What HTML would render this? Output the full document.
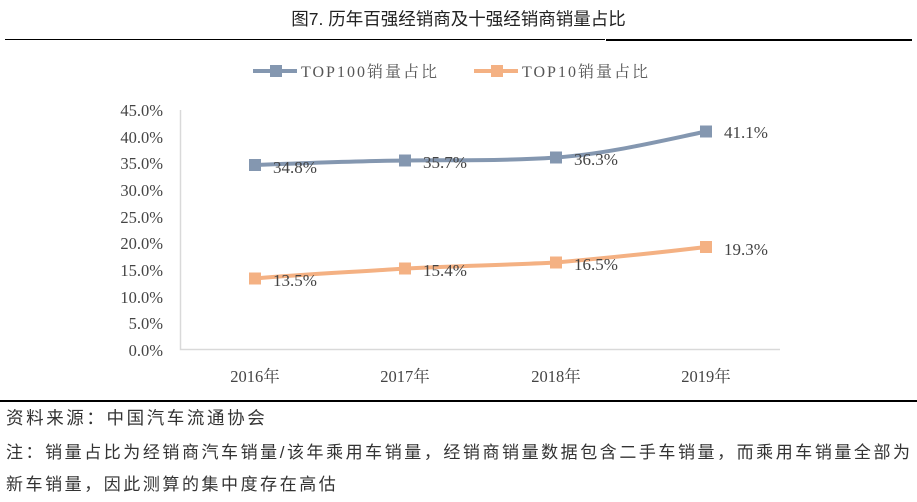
<!DOCTYPE html>
<html><head><meta charset="utf-8">
<style>
body{margin:0;width:917px;height:502px;background:#fff;overflow:hidden;position:relative;font-family:"Liberation Sans","Noto Sans CJK SC",sans-serif;}
.t{position:absolute;white-space:nowrap;}
</style></head><body>
<div class="t" style="left:0;width:917px;top:6px;text-align:center;font-size:17.5px;color:#222;">图7. 历年百强经销商及十强经销商销量占比</div>
<div style="position:absolute;left:5px;top:39px;width:600px;height:1px;background:#000"></div>
<div style="position:absolute;left:606px;top:39px;width:306px;height:2px;background:#000"></div>
<svg width="917" height="502" style="position:absolute;left:0;top:0" font-family="Liberation Serif, Noto Serif CJK SC, serif">
<g fill="#444" font-size="16.5" text-anchor="end">
<text x="163" y="116">45.0%</text><text x="163" y="143">40.0%</text><text x="163" y="169">35.0%</text><text x="163" y="196">30.0%</text><text x="163" y="223">25.0%</text><text x="163" y="249">20.0%</text><text x="163" y="276">15.0%</text><text x="163" y="303">10.0%</text><text x="163" y="329">5.0%</text><text x="163" y="356">0.0%</text>
</g>
<path d="M180.5 110V349.5H780" stroke="#d9d9d9" stroke-width="1.5" fill="none"/>
<g fill="#444" font-size="16.5" text-anchor="middle">
<text x="255" y="382">2016年</text><text x="405" y="382">2017年</text><text x="556" y="382">2018年</text><text x="706" y="382">2019年</text>
</g>
<path d="M255 165 C305 163,355 161,405 160.5 C455 160,505 161,556 157.5 C606 154,656 142,706 131.5" stroke="#8497b0" stroke-width="4" fill="none"/>
<path d="M255 278.5 C305 274,355 272,405 268.5 C455 266,505 265,556 262.5 C606 258,656 253,706 247" stroke="#f4b183" stroke-width="4" fill="none"/>
<g fill="#8497b0"><rect x="249" y="159" width="12" height="12"/><rect x="399" y="154.5" width="12" height="12"/><rect x="550" y="151.5" width="12" height="12"/><rect x="700" y="125.5" width="12" height="12"/></g>
<g fill="#f4b183"><rect x="249" y="272.5" width="12" height="12"/><rect x="399" y="262.5" width="12" height="12"/><rect x="550" y="256.5" width="12" height="12"/><rect x="700" y="241" width="12" height="12"/></g>
<g fill="#444" font-size="17">
<text x="273" y="173">34.8%</text><text x="423" y="168">35.7%</text><text x="574" y="165">36.3%</text><text x="724" y="138">41.1%</text>
<text x="273" y="286">13.5%</text><text x="423" y="276">15.4%</text><text x="574" y="270">16.5%</text><text x="724" y="255">19.3%</text>
</g>
<line x1="253" y1="71" x2="297" y2="71" stroke="#8497b0" stroke-width="4"/><rect x="270" y="65" width="12" height="12" fill="#8497b0"/>
<line x1="474" y1="71" x2="518" y2="71" stroke="#f4b183" stroke-width="4"/><rect x="491" y="65" width="12" height="12" fill="#f4b183"/>
<g fill="#555" font-size="16"><text x="301" y="77" letter-spacing="2">TOP100销量占比</text><text x="522" y="77" letter-spacing="2">TOP10销量占比</text></g>
</svg>
<div style="position:absolute;left:0;top:400px;width:917px;height:2px;background:#000"></div>
<div class="t" style="left:6px;top:405px;font-size:17.5px;letter-spacing:2.6px;color:#333;">资料来源：中国汽车流通协会</div>
<div class="t" style="left:6px;top:438px;font-size:17px;letter-spacing:2.55px;color:#333;">注：销量占比为经销商汽车销量/该年乘用车销量，经销商销量数据包含二手车销量，而乘用车销量全部为</div>
<div class="t" style="left:6px;top:470px;font-size:17px;letter-spacing:2.55px;color:#333;">新车销量，因此测算的集中度存在高估</div>
</body></html>
